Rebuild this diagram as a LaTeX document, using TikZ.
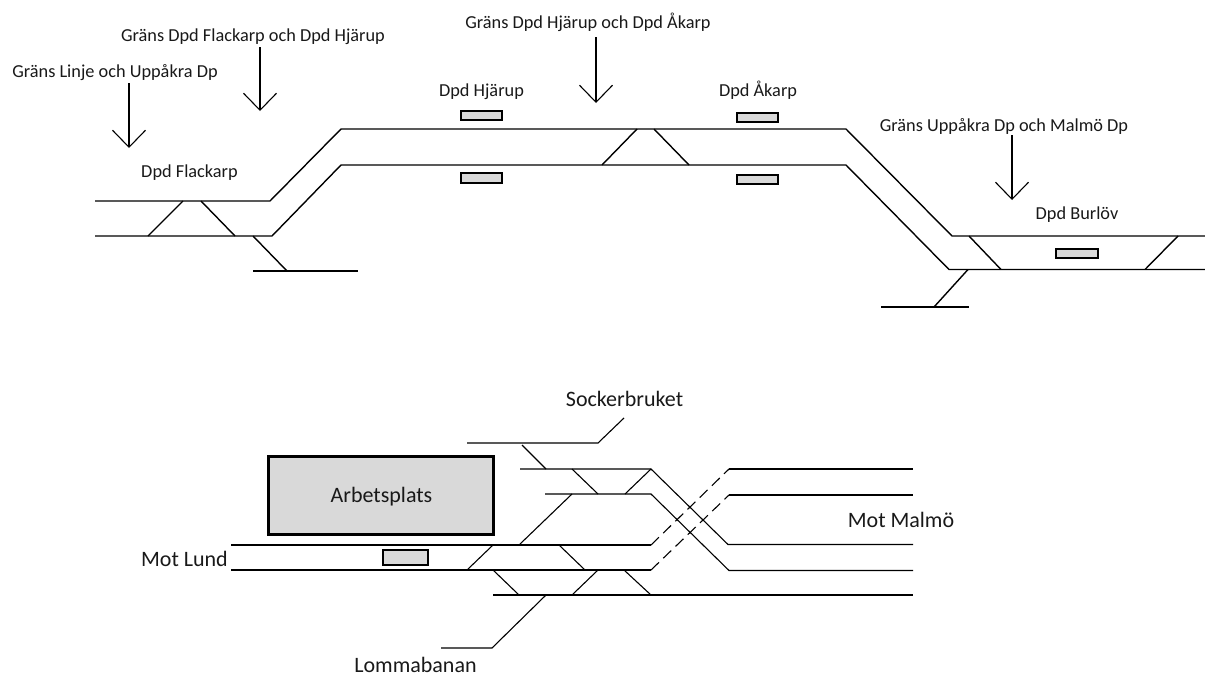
\documentclass[tikz,border=0pt]{standalone}
\usepackage{fontspec}
\setmainfont{Carlito}
\usetikzlibrary{arrows.meta}
\definecolor{padgrey}{HTML}{D9D9D9}
\tikzset{
  track/.style={line width=1.4pt,line join=miter},
  thin track/.style={line width=1.1pt,line join=miter},
  dashtrack/.style={line width=1.1pt,dash pattern=on 11pt off 6pt},
  border/.style={line width=1.1pt,-{Straight Barb[length=17pt,width=33pt,line width=1.1pt]}},
  lbl/.style={font=\fontsize{18.3pt}{21pt}\selectfont,inner sep=0pt,anchor=base,text=black!90},
  biglbl/.style={font=\fontsize{22pt}{25pt}\selectfont,inner sep=0pt,anchor=base,text=black!90},
  pad/.style={draw=black,fill=padgrey,line width=1.3pt},
  padthin/.style={draw=black,fill=padgrey,line width=1.1pt},
}
\begin{document}
\begin{tikzpicture}[x=1pt,y=-1pt]
\useasboundingbox (0,0) rectangle (1205,675);
% top section
\draw[track] (95,201) -- (270,201) -- (341,129) -- (846,129) -- (952,236) -- (1205,236);
\draw[track] (95,236) -- (272,236) -- (341,165) -- (846,165) -- (949,269.5) -- (1205,269.5);
\draw[track] (148,236) -- (183,201);
\draw[track] (201,201) -- (235,236);
\draw[track] (253,236) -- (287,271);
\draw[track] (253,271) -- (358,271);
\draw[track] (602,165) -- (637,129);
\draw[track] (654,129) -- (689,165);
\draw[track] (969,236) -- (1001,269.5);
\draw[track] (1178,236) -- (1145,269.5);
\draw[track] (968,269.5) -- (934,307);
\draw[track] (881,307) -- (969,307);
% platforms
\path[pad] (461,111) rectangle (502,120);
\path[pad] (461,173) rectangle (502,183);
\path[pad] (737,113) rectangle (778,122);
\path[pad] (737,175) rectangle (778,184);
\path[pad] (1056,249) rectangle (1098,258);
% labels
\node[lbl] (l1) at (115,77) {Gräns Linje och Uppåkra Dp};
\node[lbl] (l2) at (253,41) {Gräns Dpd Flackarp och Dpd Hjärup};
\node[lbl] (l3) at (588,28) {Gräns Dpd Hjärup och Dpd Åkarp};
\node[lbl] (l4) at (1004,131) {Gräns Uppåkra Dp och Malmö Dp};
\node[lbl] (d1) at (189.5,177) {Dpd Flackarp};
\node[lbl] (d2) at (481.5,96) {Dpd Hjärup};
\node[lbl] (d3) at (758,96) {Dpd Åkarp};
\node[lbl] (d4) at (1077,219) {Dpd Burlöv};
% boundary arrows
\coordinate (a1) at (129,83); \coordinate (b1) at (129,148);
\coordinate (a2) at (260,47); \coordinate (b2) at (260,111);
\coordinate (a3) at (596,37); \coordinate (b3) at (596,103);
\coordinate (a4) at (1012,135); \coordinate (b4) at (1012,200);
\draw[border] (a1) -- (b1);
\draw[border] (a2) -- (b2);
\draw[border] (a3) -- (b3);
\draw[border] (a4) -- (b4);
% bottom section
\node[draw=black,fill=padgrey,line width=3pt,minimum width=225pt,minimum height=78pt,inner sep=0pt] (work) at (380.5,495) {};
\node[biglbl] (worktext) at (381.5,502) {Arbetsplats};
\path[padthin] (383,550) rectangle (428,565);
\draw[thin track] (231,545) -- (651,545);
\draw[thin track] (231,570) -- (651,570);
\draw[dashtrack] (651,545) -- (729,469);
\draw[dashtrack] (651,570) -- (729,495);
\draw[thin track] (729,469) -- (913,469);
\draw[thin track] (729,495) -- (913,495);
\draw[thin track] (467,443) -- (598,443) -- (624,418);
\draw[thin track] (522,445) -- (546,469);
\draw[thin track] (520,469) -- (651,469) -- (728,544.5) -- (913,544.5);
\draw[thin track] (572,469) -- (598,494);
\draw[thin track] (625,494) -- (651,469);
\draw[thin track] (545,494) -- (651,494) -- (729,570.5) -- (913,570.5);
\draw[thin track] (572,494) -- (519,545);
\draw[thin track] (493,545) -- (467,570);
\draw[thin track] (559,545) -- (585,570);
\draw[thin track] (493,570) -- (519,595);
\draw[thin track] (598,570) -- (572,595);
\draw[thin track] (624,570) -- (651,595);
\draw[thin track] (493,595) -- (913,595);
\draw[thin track] (546,595) -- (492,648) -- (441,648);
\node[biglbl] (lund) at (184.5,566) {Mot Lund};
\node[biglbl] (malmo) at (901,527) {Mot Malmö};
\node[biglbl] (socker) at (624.5,406) {Sockerbruket};
\node[biglbl] (lomma) at (415.5,672.5) {Lommabanan};
\end{tikzpicture}
\end{document}
